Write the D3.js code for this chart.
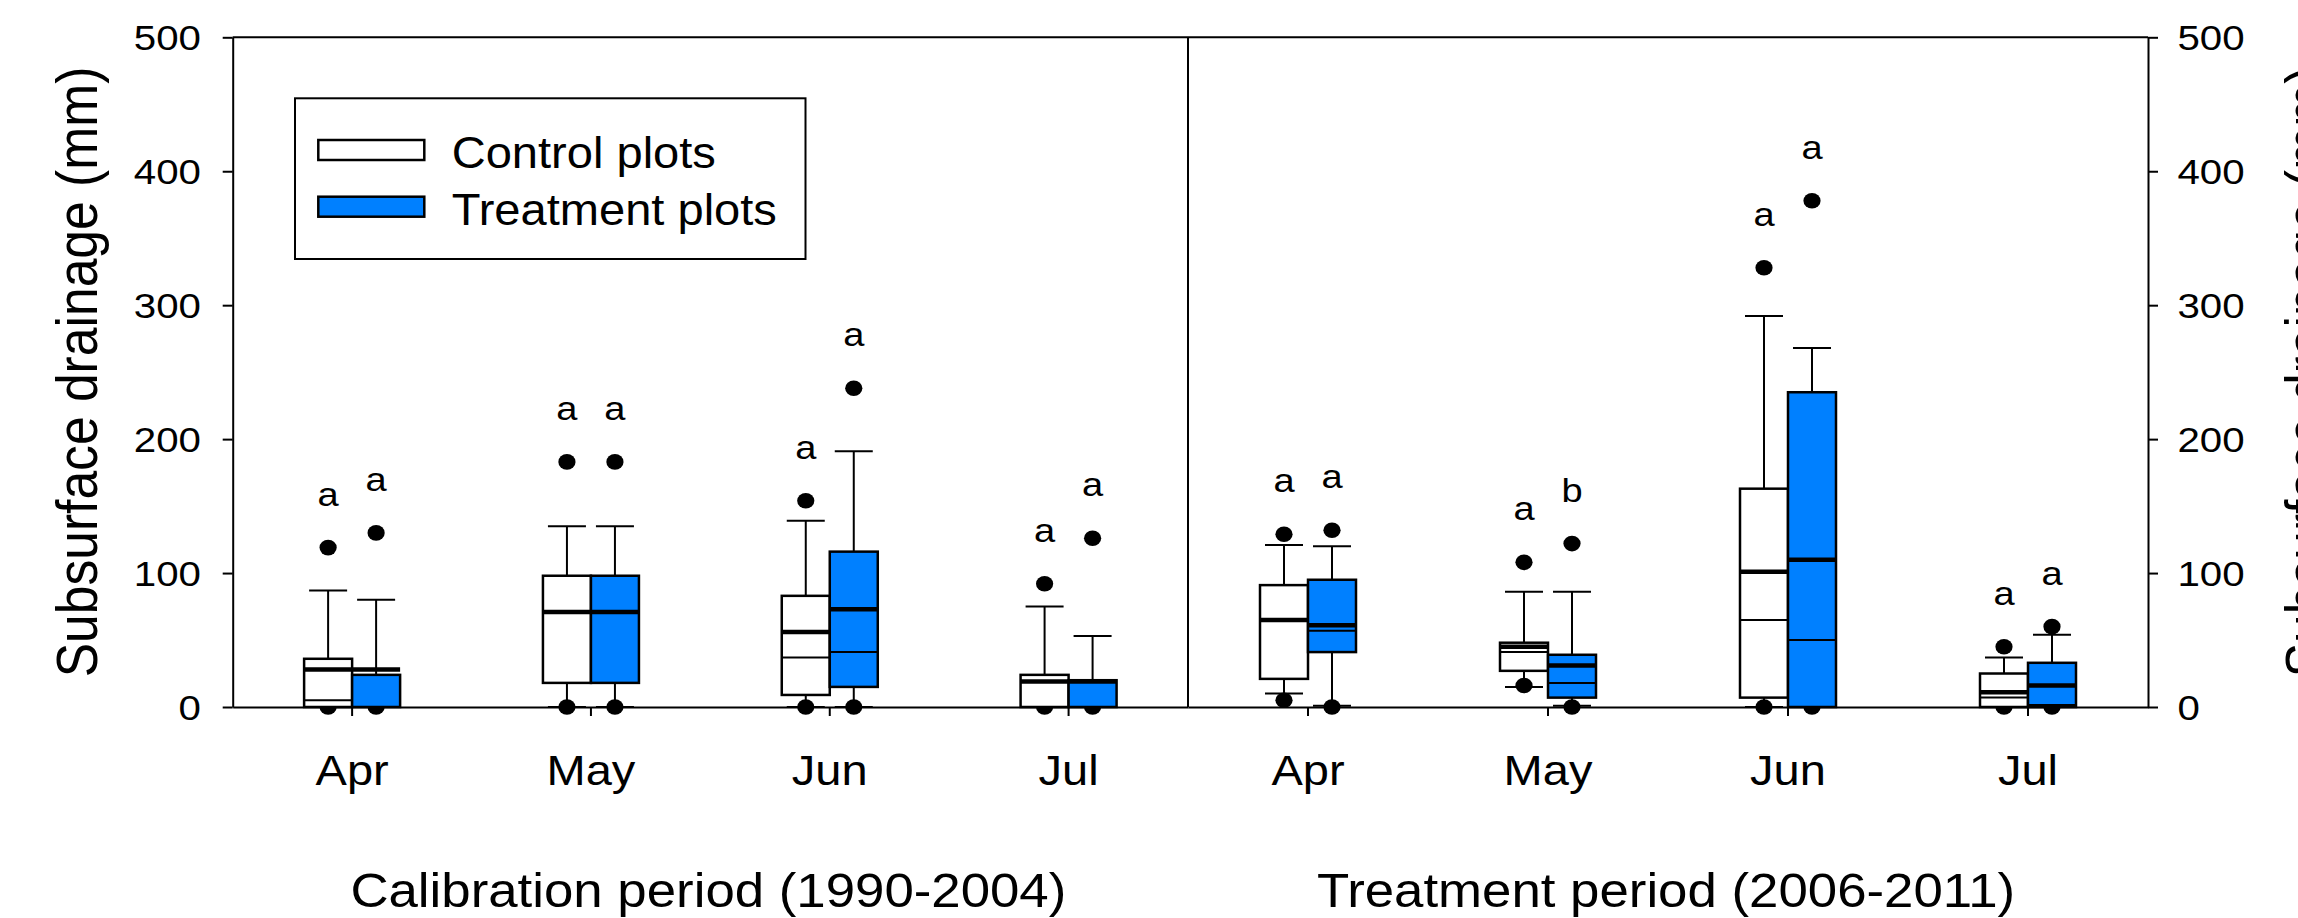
<!DOCTYPE html>
<html>
<head>
<meta charset="utf-8">
<script src="https://cdn.jsdelivr.net/npm/d3@7"></script>
<style>
  body { margin: 0; background: #fff; }
  svg { display: block; font-family: "Liberation Sans", Arial, sans-serif; }
</style>
</head>
<body>
<div id="chart"></div>
<script>
// ---- data (mm) ----
const months = ["Apr", "May", "Jun", "Jul"];
const periodLabels = ["Calibration period (1990-2004)", "Treatment period (2006-2011)"];
const groupNames = ["Control plots", "Treatment plots"];
const groupColors = ["#ffffff", "#0080ff"];
const yTicks = [0, 100, 200, 300, 400, 500];

// each row: [p5, p10, q1, median, mean, q3, p90, p95]
const calibrationControl = [
    [0, 0, 0, 5, 28, 36, 87, 119],
    [0, 0, 18, 71, 71, 98, 135, 183],
    [0, 0, 9, 37, 56, 83, 139, 154],
    [0, 0, 0, 0, 19, 24, 75, 92]
];
const calibrationTreatment = [
    [0, 0, 0, 0, 28, 24, 80, 130],
    [0, 0, 18, 71, 71, 98, 135, 183],
    [0, 0, 15, 41, 73, 116, 191, 238],
    [0, 0, 0, 0, 19, 20, 53, 126]
];
const treatmentControl = [
    [5, 10, 21, 65, 65, 91, 121, 129],
    [16, 15, 27, 41, 45, 48, 86, 108],
    [0, 0, 7, 65, 101, 163, 292, 328],
    [0, 0, 0, 7, 11, 25, 37, 45]
];
const treatmentTreatment = [
    [0, 1, 41, 57, 61, 95, 120, 132],
    [0, 1, 7, 18, 31, 39, 86, 122],
    [0, 0, 0, 50, 110, 235, 268, 378],
    [0, 0, 0, 1.5, 16, 33, 54, 60]
];
const calibrationLetters = [["a", "a"], ["a", "a"], ["a", "a"], ["a", "a"]];
const treatmentLetters = [["a", "a"], ["a", "b"], ["a", "a"], ["a", "a"]];

// ---- layout ----
const width = 2298, height = 918;
const plotLeft = 232.7, plotMid = 1188, plotRight = 2148;
const plotTop = 37.3, plotBottom = 707;
const stretch = 1.12;   // the figure is slightly widened, text included

const svg = d3.select("#chart")
    .append("svg")
    .attr("width", width)
    .attr("height", height)
    .attr("viewBox", [0, 0, width, height]);

const yScale = d3.scaleLinear().domain([0, 500]).range([plotBottom, plotTop]);
const xLeft = d3.scaleBand().domain(months).range([plotLeft, plotMid]);
const xRight = d3.scaleBand().domain(months).range([plotMid, plotRight]);

const boxW = 48, capW = 38;

const drawPeriod = (xScale, groups, letters) => {
    const g = svg.append("g");
    groups.forEach((stats, gi) => {
        const rows = stats.map((s, i) => ({
            month: months[i],
            p5: s[0], p10: s[1], q1: s[2], median: s[3], mean: s[4], q3: s[5], p90: s[6], p95: s[7],
            letter: letters[i][gi]
        }));
        const bx = d => xScale(d.month) + xScale.bandwidth() / 2 - boxW + gi * boxW;
        const cx = d => bx(d) + boxW / 2;
        const grp = g.append("g");

        // percentile dots
        ["p5", "p95"].forEach(k => {
            grp.append("g").selectAll("ellipse").data(rows).join("ellipse")
                .attr("cx", cx).attr("cy", d => yScale(d[k]))
                .attr("rx", 8.6).attr("ry", 7.8).attr("fill", "#000");
        });

        // whiskers
        grp.append("g").selectAll("line").data(rows).join("line")
            .attr("x1", cx).attr("x2", cx)
            .attr("y1", d => yScale(d.p10)).attr("y2", d => yScale(d.q1))
            .attr("stroke", "#000").attr("stroke-width", 2);
        grp.append("g").selectAll("line").data(rows).join("line")
            .attr("x1", cx).attr("x2", cx)
            .attr("y1", d => yScale(d.q3)).attr("y2", d => yScale(d.p90))
            .attr("stroke", "#000").attr("stroke-width", 2);
        ["p10", "p90"].forEach(k => {
            grp.append("g").selectAll("line").data(rows).join("line")
                .attr("x1", d => cx(d) - capW / 2).attr("x2", d => cx(d) + capW / 2)
                .attr("y1", d => yScale(d[k])).attr("y2", d => yScale(d[k]))
                .attr("stroke", "#000").attr("stroke-width", 2);
        });

        // boxes
        grp.append("g").selectAll("rect").data(rows).join("rect")
            .attr("x", bx).attr("width", boxW)
            .attr("y", d => yScale(d.q3))
            .attr("height", d => yScale(d.q1) - yScale(d.q3))
            .attr("fill", groupColors[gi])
            .attr("stroke", "#000").attr("stroke-width", 2.5);

        // median (thin) and mean (thick)
        grp.append("g").selectAll("line").data(rows).join("line")
            .attr("x1", bx).attr("x2", d => bx(d) + boxW)
            .attr("y1", d => yScale(d.median)).attr("y2", d => yScale(d.median))
            .attr("stroke", "#000").attr("stroke-width", 2);
        grp.append("g").selectAll("line").data(rows).join("line")
            .attr("x1", bx).attr("x2", d => bx(d) + boxW)
            .attr("y1", d => yScale(d.mean)).attr("y2", d => yScale(d.mean))
            .attr("stroke", "#000").attr("stroke-width", 4.5);

        // significance letters
        grp.append("g").selectAll("text").data(rows).join("text")
            .attr("transform", d => `translate(${cx(d)},${yScale(d.p95) - 42}) scale(${stretch},1)`)
            .attr("text-anchor", "middle")
            .attr("font-size", 34)
            .text(d => d.letter);
    });
};

drawPeriod(xLeft, [calibrationControl, calibrationTreatment], calibrationLetters);
drawPeriod(xRight, [treatmentControl, treatmentTreatment], treatmentLetters);

// ---- axes and frame ----
const frame = svg.append("g").attr("stroke", "#000").attr("stroke-width", 2);
frame.append("line").attr("x1", plotLeft).attr("x2", plotRight).attr("y1", plotTop).attr("y2", plotTop);
frame.append("line").attr("x1", plotMid).attr("x2", plotMid).attr("y1", plotTop).attr("y2", plotBottom);

const styleAxis = g => {
    g.select(".domain").attr("stroke-width", 2);
    g.selectAll(".tick line").attr("stroke-width", 2);
};

svg.append("g")
    .attr("transform", `translate(${plotLeft},0)`)
    .call(d3.axisLeft(yScale).tickValues(yTicks).tickSize(10).tickSizeOuter(0))
    .call(styleAxis)
    .call(g => g.selectAll(".tick text")
        .attr("x", 0).attr("dy", "0.36em")
        .attr("transform", `translate(-31.7,0) scale(1.15,1)`)
        .attr("font-size", 35).attr("fill", "#000"));

svg.append("g")
    .attr("transform", `translate(${plotRight},0)`)
    .call(d3.axisRight(yScale).tickValues(yTicks).tickSize(10).tickSizeOuter(0))
    .call(styleAxis)
    .call(g => g.selectAll(".tick text")
        .attr("x", 0).attr("dy", "0.36em")
        .attr("transform", `translate(29.4,0) scale(1.15,1)`)
        .attr("font-size", 35).attr("fill", "#000"));

[xLeft, xRight].forEach(xs => {
    svg.append("g")
        .attr("transform", `translate(0,${plotBottom})`)
        .call(d3.axisBottom(xs).tickSize(9).tickSizeOuter(0))
        .call(styleAxis)
        .call(g => g.selectAll(".tick text")
            .attr("y", 0).attr("dy", 0)
            .attr("transform", `translate(0,78) scale(${stretch},1)`)
            .attr("font-size", 42).attr("fill", "#000"));
});

// period labels
[xLeft, xRight].forEach((xs, i) => {
    const r = xs.range();
    svg.append("text")
        .attr("transform", `translate(${(r[0] + r[1]) / 2 - 2},906.7) scale(1.1,1)`)
        .attr("text-anchor", "middle")
        .attr("font-size", 48)
        .text(periodLabels[i]);
});

// y titles (the right one runs off the page edge)
[97, 2326].forEach(x => {
    svg.append("text")
        .attr("transform", `translate(${x},372) scale(${stretch},1) rotate(-90)`)
        .attr("text-anchor", "middle")
        .attr("font-size", 51.6)
        .text("Subsurface drainage (mm)");
});

// ---- legend ----
const legend = svg.append("g");
legend.append("rect")
    .attr("x", 295).attr("y", 98.3).attr("width", 510.5).attr("height", 160.7)
    .attr("fill", "#fff").attr("stroke", "#000").attr("stroke-width", 2);
groupNames.forEach((name, i) => {
    legend.append("rect")
        .attr("x", 318.3).attr("y", 140 + i * 56.7).attr("width", 106).attr("height", 20)
        .attr("fill", groupColors[i]).attr("stroke", "#000").attr("stroke-width", 2.5);
    legend.append("text")
        .attr("transform", `translate(451.7,${168.3 + i * 56.7}) scale(1.07,1)`)
        .attr("font-size", 44)
        .text(name);
});
</script>
</body>
</html>
